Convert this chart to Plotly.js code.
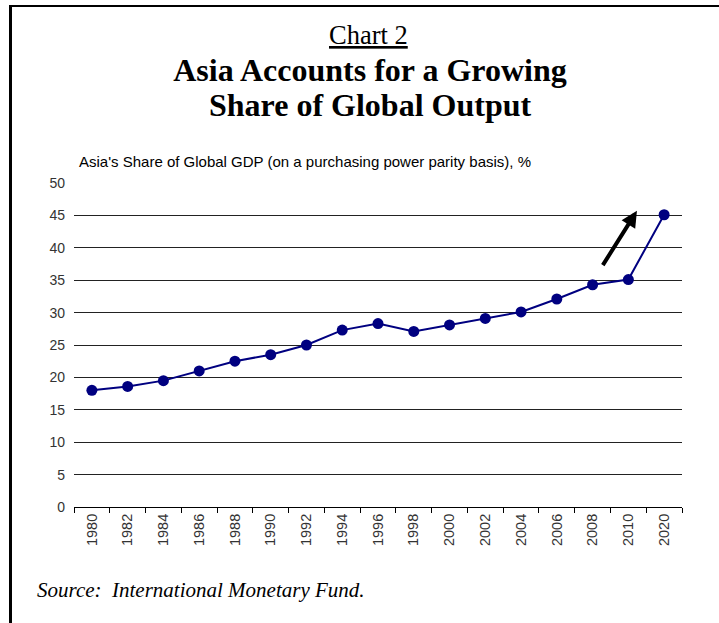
<!DOCTYPE html>
<html>
<head>
<meta charset="utf-8">
<script src="https://cdn.plot.ly/plotly-3.0.1.min.js"></script>
<style>
  html, body { margin: 0; padding: 0; background: #fff; }
  #wrap { position: relative; width: 719px; height: 623px; overflow: hidden; }
  #chart { width: 719px; height: 623px; }
  #frame { position: absolute; left: 9px; top: 5px; width: 760px; height: 700px;
           border-left: 3px solid #000; border-top: 2px solid #000; pointer-events: none; }
</style>
</head>
<body>
<div id="wrap">
  <div id="chart"></div>
  <div id="frame"></div>
</div>
<script>
const years = ['1980','1982','1984','1986','1988','1990','1992','1994','1996','1998',
               '2000','2002','2004','2006','2008','2010','2020'];
const asiaShare = [18.0, 18.6, 19.5, 21.0, 22.5, 23.5, 25.0, 27.3, 28.3, 27.1,
                   28.1, 29.1, 30.1, 32.1, 34.3, 35.1, 45.1];
const yTicks = [0, 5, 10, 15, 20, 25, 30, 35, 40, 45, 50];

// arrow annotation (category index, value)
const arrowTail = [14.26, 37.1];
const arrowHead = [15.24, 45.7];

const serif = 'Liberation Serif, Times New Roman, serif';
const sans = 'Liberation Sans, Arial, sans-serif';

const trace = {
  type: 'scatter',
  mode: 'lines+markers',
  x: years,
  y: asiaShare,
  line: { color: '#000080', width: 2 },
  marker: { color: '#000080', size: 11 },
  hoverinfo: 'x+y'
};

const layout = {
  width: 719,
  height: 623,
  margin: { l: 74, r: 37, t: 183, b: 116 },
  paper_bgcolor: '#fff',
  plot_bgcolor: '#fff',
  showlegend: false,
  title: {
    text: '<b>Asia Accounts for a Growing</b>',
    font: { family: serif, size: 32, color: '#000' },
    x: 370 / 719, xanchor: 'center',
    y: 1 - 70 / 623, yanchor: 'middle',
    xref: 'container', yref: 'container'
  },
  xaxis: {
    type: 'category',
    range: [-0.5, years.length - 0.5],
    tickangle: -90,
    tickfont: { family: sans, size: 14.5, color: '#333' },
    showgrid: false,
    showline: true,
    linecolor: '#000',
    linewidth: 1,
    ticks: 'outside',
    tickson: 'boundaries',
    ticklen: 5,
    tickcolor: '#000',
    zeroline: false,
    fixedrange: true
  },
  yaxis: {
    range: [0, 50],
    tickvals: yTicks,
    ticktext: yTicks.map(String),
    tickfont: { family: sans, size: 14, color: '#333' },
    showgrid: true,
    gridcolor: '#222',
    gridwidth: 1,
    zeroline: false,
    showline: false,
    ticks: '',
    ticklabelstandoff: 8,
    fixedrange: true
  },
  annotations: [
    {
      text: '<u>Chart 2</u>',
      xref: 'paper', yref: 'paper',
      x: (368 - 74) / 608, y: (507 - 35) / 324,
      xanchor: 'center', yanchor: 'middle',
      showarrow: false,
      font: { family: serif, size: 26.5, color: '#000' }
    },
    {
      text: '<b>Share of Global Output</b>',
      xref: 'paper', yref: 'paper',
      x: (370 - 74) / 608, y: (507 - 105) / 324,
      xanchor: 'center', yanchor: 'middle',
      showarrow: false,
      font: { family: serif, size: 32, color: '#000' }
    },
    {
      text: "Asia's Share of Global GDP (on a purchasing power parity basis), %",
      xref: 'paper', yref: 'paper',
      x: (77 - 74) / 608, y: (507 - 162) / 324,
      xanchor: 'left', yanchor: 'middle',
      showarrow: false,
      font: { family: sans, size: 15, color: '#000' }
    },
    {
      text: '<i>Source:  International Monetary Fund.</i>',
      xref: 'paper', yref: 'paper',
      x: (35 - 74) / 608, y: (507 - 590) / 324,
      xanchor: 'left', yanchor: 'middle',
      showarrow: false,
      font: { family: serif, size: 21, color: '#000' }
    },
    {
      text: '',
      xref: 'x', yref: 'y', axref: 'x', ayref: 'y',
      x: arrowHead[0], y: arrowHead[1],
      ax: arrowTail[0], ay: arrowTail[1],
      showarrow: true,
      arrowhead: 2,
      arrowsize: 0.8,
      arrowwidth: 4,
      arrowcolor: '#000'
    }
  ]
};

Plotly.newPlot('chart', [trace], layout, { displayModeBar: false, staticPlot: true });
</script>
</body>
</html>
